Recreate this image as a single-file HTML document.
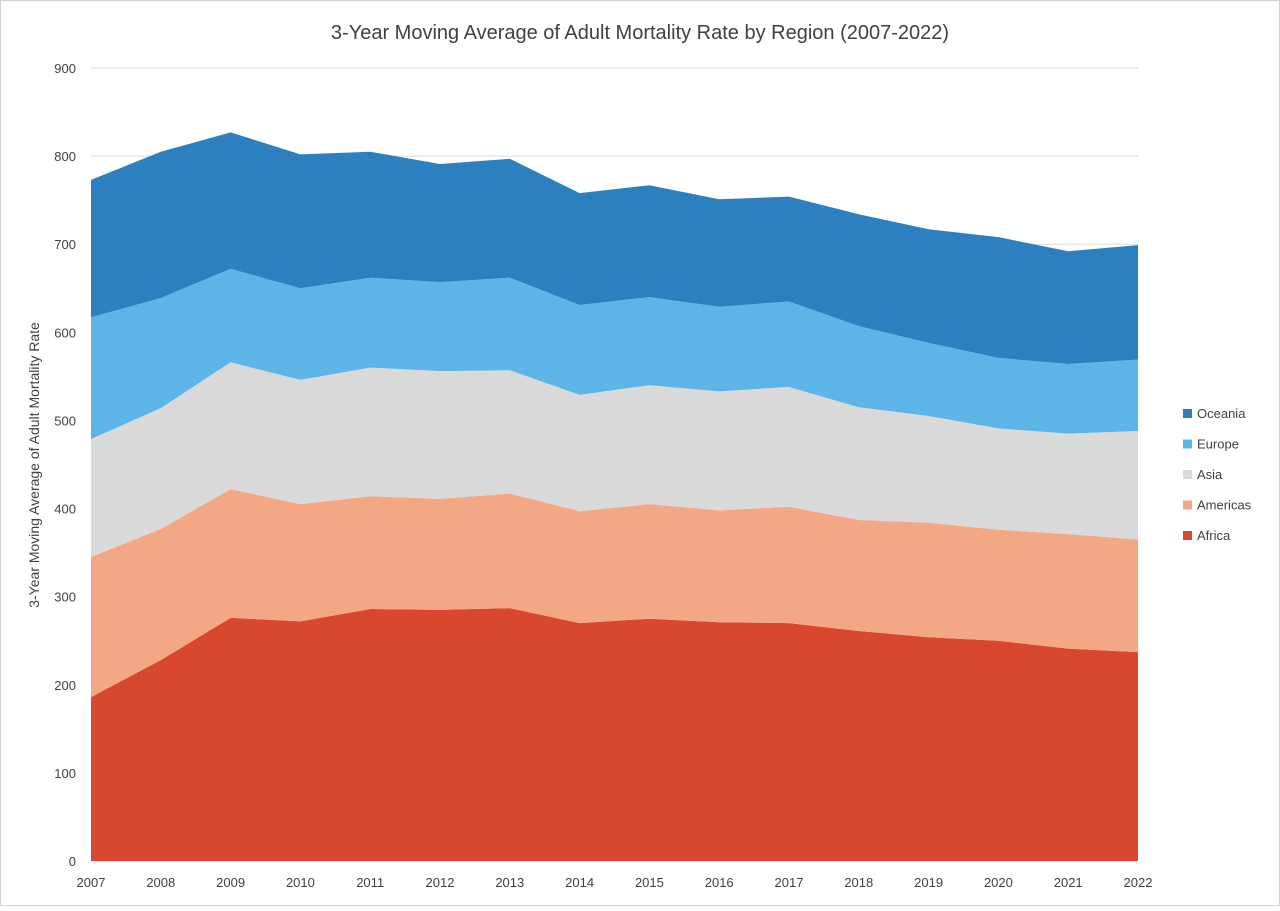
<!DOCTYPE html>
<html><head><meta charset="utf-8"><style>
body{margin:0;background:#fff;font-family:"Liberation Sans",sans-serif;}
svg text{font-family:"Liberation Sans",sans-serif;}
</style></head><body>
<svg id="chart" width="1280" height="906" viewBox="0 0 1280 906" xmlns="http://www.w3.org/2000/svg">
<rect x="0.5" y="0.5" width="1279" height="905" fill="#fff" stroke="#d0d0d0"/>
<text x="640" y="39" text-anchor="middle" font-size="20" fill="#404040">3-Year Moving Average of Adult Mortality Rate by Region (2007-2022)</text>
<g id="grid"></g><g id="areas"></g><g id="axes"></g><g id="legend"></g>
<text transform="translate(39,465) rotate(-90)" text-anchor="middle" font-size="14" fill="#404040">3-Year Moving Average of Adult Mortality Rate</text>
</svg>
<script>
const years=[2007,2008,2009,2010,2011,2012,2013,2014,2015,2016,2017,2018,2019,2020,2021,2022];
const africa=[186,228,276,272,286,285,287,270,275,271,270,261,254,250,241,237];
const americas=[159,149,146,133,128,126,130,127,130,127,132,126,130,126,130,128];
const asia=[134,137,144,141,146,145,140,132,135,135,136,128,121,115,114,123];
const europe=[138,125,106,104,102,101,105,102,100,96,97,92,83,80,79,81];
const oceania=[156,166,155,152,143,134,135,127,127,122,119,127,129,137,128,130];
const yTicks=[0,100,200,300,400,500,600,700,800,900];
const seriesNames=["Africa","Americas","Asia","Europe","Oceania"];
const seriesColors=["#d9472e","#f4a784","#d9d9d9","#5cb5e6","#2c80c0"];

const NS="http://www.w3.org/2000/svg";
const x0=91,x1=1138,yb=861,yt=68;
const xs=i=>x0+(x1-x0)*i/(years.length-1);
const ys=v=>yb-(yb-yt)*v/900;
function mk(tag,attrs,parent){const e=document.createElementNS(NS,tag);for(const k in attrs)e.setAttribute(k,attrs[k]);parent.appendChild(e);return e;}
const grid=document.getElementById('grid'),areas=document.getElementById('areas'),axes=document.getElementById('axes'),legend=document.getElementById('legend');
yTicks.forEach(t=>{
  const l=mk('line',{x1:x0,x2:x1,y1:ys(t),y2:ys(t),stroke:'#d9d9d9','stroke-width':1},grid);
  
  
  const tx=mk('text',{x:76,y:ys(t)+5,'text-anchor':'end','font-size':13,fill:'#404040'},axes);
  tx.textContent=t;
  
  
});
const data=[africa,americas,asia,europe,oceania];
let base=years.map(()=>0);
data.forEach((s,k)=>{
  const top=base.map((b,i)=>b+s[i]);
  let d='';
  top.forEach((v,i)=>{d+=(i?'L':'M')+xs(i)+','+ys(v);});
  for(let i=years.length-1;i>=0;i--)d+='L'+xs(i)+','+ys(base[i]);
  const p=mk('path',{d:d+'Z',fill:seriesColors[k]},areas);
  
  
  base=top;
});
years.forEach((y,i)=>{
  const tx=mk('text',{x:xs(i),y:887,'text-anchor':'middle','font-size':13,fill:'#404040'},axes);
  tx.textContent=y;
  
  
});
for(let k=4;k>=0;k--){
  const yy=414+(4-k)*30.5;
  const g=mk('g',{},legend);
  
  
  mk('rect',{x:1183,y:yy-5,width:9,height:9,fill:seriesColors[k]},g);
  const tx=mk('text',{x:1197,y:yy+4,'font-size':13,fill:'#404040'},g);
  tx.textContent=seriesNames[k];
}
</script>
</body></html>
